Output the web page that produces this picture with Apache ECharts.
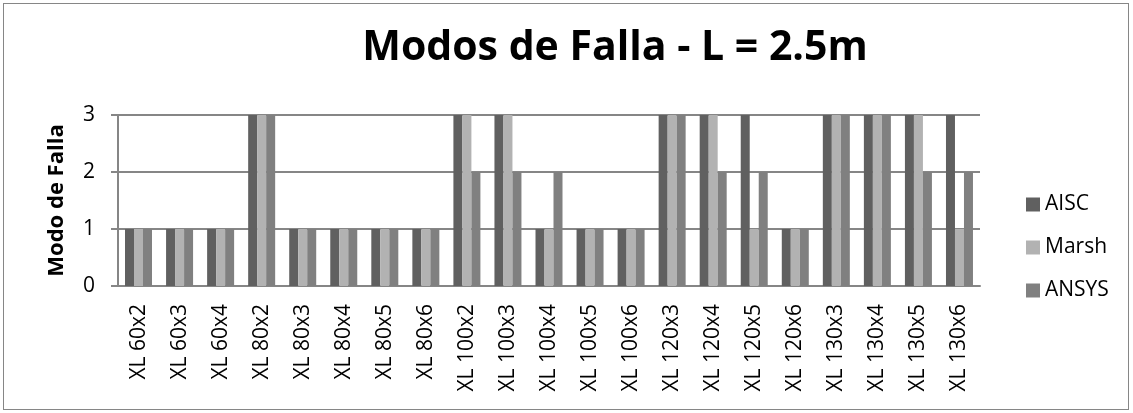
<!DOCTYPE html>
<html>
<head>
<meta charset="utf-8">
<script src="https://cdn.jsdelivr.net/npm/echarts@6/dist/echarts.min.js"></script>
<style>
  html, body { margin: 0; padding: 0; background: #fff; }
  #chart { position: absolute; left: 3px; top: 3px; width: 1126px; height: 407px; border: 1px solid #868686; box-sizing: border-box; }
</style>
</head>
<body>
<div id="chart"></div>
<script>
const categories = ['XL 60x2', 'XL 60x3', 'XL 60x4', 'XL 80x2', 'XL 80x3', 'XL 80x4', 'XL 80x5', 'XL 80x6',
  'XL 100x2', 'XL 100x3', 'XL 100x4', 'XL 100x5', 'XL 100x6', 'XL 120x3', 'XL 120x4', 'XL 120x5',
  'XL 120x6', 'XL 130x3', 'XL 130x4', 'XL 130x5', 'XL 130x6']
const aisc  = [1, 1, 1, 3, 1, 1, 1, 1, 3, 3, 1, 1, 1, 3, 3, 3, 1, 3, 3, 3, 3]
const marsh = [1, 1, 1, 3, 1, 1, 1, 1, 3, 3, 1, 1, 1, 3, 3, 1, 1, 3, 3, 3, 1]
const ansys = [1, 1, 1, 3, 1, 1, 1, 1, 2, 2, 2, 1, 1, 3, 2, 2, 1, 3, 3, 2, 2]
const seriesNames = ['AISC', 'Marsh', 'ANSYS']
const seriesColors = ['#606060', '#b2b2b2', '#808080']

const font = "'Open Sans', 'Noto Sans', sans-serif"
const chart = echarts.init(document.getElementById('chart'))

const option = {
  animation: false,
  color: seriesColors,
  title: {
    text: 'Modos de Falla - L = 2.5m',
    left: 606,
    top: 19,
    textAlign: 'center',
    textStyle: { fontFamily: font, fontSize: 41, fontWeight: 'bold', color: '#000' },
  },
  legend: {
    orient: 'vertical',
    left: 1017,
    top: 185,
    itemWidth: 14,
    itemHeight: 14,
    itemGap: 22,
    icon: 'rect',
    data: seriesNames,
    textStyle: { fontFamily: font, fontSize: 21, color: '#000' },
  },
  grid: {
    left: 114,
    right: 148,
    top: 111,
    bottom: 123,
    containLabel: false,
  },
  xAxis: {
    type: 'category',
    data: categories,
    axisLine: { lineStyle: { color: '#868686', width: 2 } },
    axisTick: { show: false },
    axisLabel: {
      rotate: 90,
      margin: 18,
      fontFamily: font,
      fontSize: 21,
      color: '#000',
      interval: 0,
    },
  },
  yAxis: {
    type: 'value',
    min: 0,
    max: 3,
    interval: 1,
    name: 'Modo de Falla',
    nameLocation: 'middle',
    nameGap: 50,
    nameTextStyle: { fontFamily: font, fontSize: 22, fontWeight: 'bold', color: '#000' },
    axisLine: { show: true, lineStyle: { color: '#868686', width: 2 } },
    axisTick: { show: true, length: 7, lineStyle: { color: '#868686', width: 2 } },
    axisLabel: { fontFamily: font, fontSize: 21, color: '#000', margin: 23 },
    splitLine: { lineStyle: { color: '#868686', width: 2 } },
  },
  series: [
    { name: seriesNames[0], type: 'bar', data: aisc, barWidth: 9, barGap: '0%' },
    { name: seriesNames[1], type: 'bar', data: marsh, barWidth: 9, barGap: '0%' },
    { name: seriesNames[2], type: 'bar', data: ansys, barWidth: 9, barGap: '0%' },
  ],
}

option && chart.setOption(option)
</script>
</body>
</html>
